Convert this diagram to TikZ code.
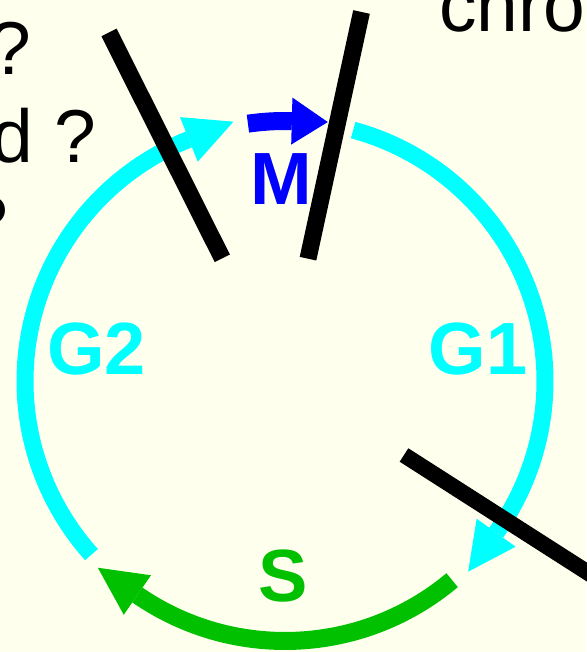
\documentclass[tikz,border=0pt]{standalone}
\usepackage{fontspec}
\setmainfont{Liberation Sans}
\usetikzlibrary{calc}
\definecolor{bg}{RGB}{255,255,238}
\definecolor{cyc}{RGB}{0,255,255}
\definecolor{blu}{RGB}{0,0,255}
\definecolor{grn}{RGB}{0,192,0}
\newcommand\cycarrowhead[4]{% #1 colour, #2 base angle, #3 length, #4 half width
  \fill[#1] ($(c)+(#2:\R+#4)$) -- ($(c)+(#2:\R)+(#2-90:#3)$) -- ($(c)+(#2:\R-#4)$) -- cycle;}
\begin{document}
\begin{tikzpicture}[x=1pt,y=1pt,
  phase/.style={line width=17pt},
  barline/.style={line width=17pt, black},
  lbl/.style={font=\fontsize{74}{80}\selectfont\bfseries, inner sep=0pt, anchor=base},
  txt/.style={font=\fontsize{75}{86}\selectfont, inner sep=0pt, text=black}]
\fill[bg] (0,0) rectangle (586,652);
\useasboundingbox (0,0) rectangle (586,652);
\coordinate (c) at (285,271);
\def\R{260}
% G2
\draw[phase, cyc] ($(c)+(221.9:\R)$) arc[start angle=221.9, end angle=111.7, radius=\R];
\cycarrowhead{cyc}{111.7}{48}{24}
% M
\draw[phase, blu, line width=18pt] ($(c)+(98.2:\R)$) arc[start angle=98.2, end angle=88.5, radius=\R];
\cycarrowhead{blu}{88.5}{36}{23.5}
% G1
\draw[phase, cyc] ($(c)+(74.8:\R)$) arc[start angle=74.8, end angle=-35.7, radius=\R];
\cycarrowhead{cyc}{-35.7}{48}{24}
% S
\draw[phase, grn, line width=18pt] ($(c)+(-50:\R)$) arc[start angle=-50, end angle=-124.6, radius=\R];
\cycarrowhead{grn}{-124.6}{48}{24}
% labels
\node[lbl, text=cyc] (g2) at (96.5,277) {G2};
\node[lbl, text=cyc] (g1) at (478,277) {G1};
\node[lbl, text=blu] (m) at (281,447) {M};
\node[lbl, text=grn] (s) at (283,50) {S};
% texts
\node[txt, anchor=base east] (q1) at (31,577) {?};
\node[txt, anchor=base east] (q2) at (96,489) {d ?};
\node[txt, anchor=base east] (q3) at (8,403) {?};
\node[txt, anchor=base west] (chro) at (439,620) {chrom};
% bars
\coordinate (b1a) at (109,619.5);
\coordinate (b1b) at (222.3,393.7);
\coordinate (b2a) at (361.5,640);
\coordinate (b2b) at (308,393.3);
\coordinate (b3a) at (404,197);
\coordinate (b3b) at (700,7.6);
\draw[barline] (b1a) -- (b1b);
\draw[barline] (b2a) -- (b2b);
\draw[barline, line width=16pt] (b3a) -- (b3b);
\end{tikzpicture}
\end{document}
